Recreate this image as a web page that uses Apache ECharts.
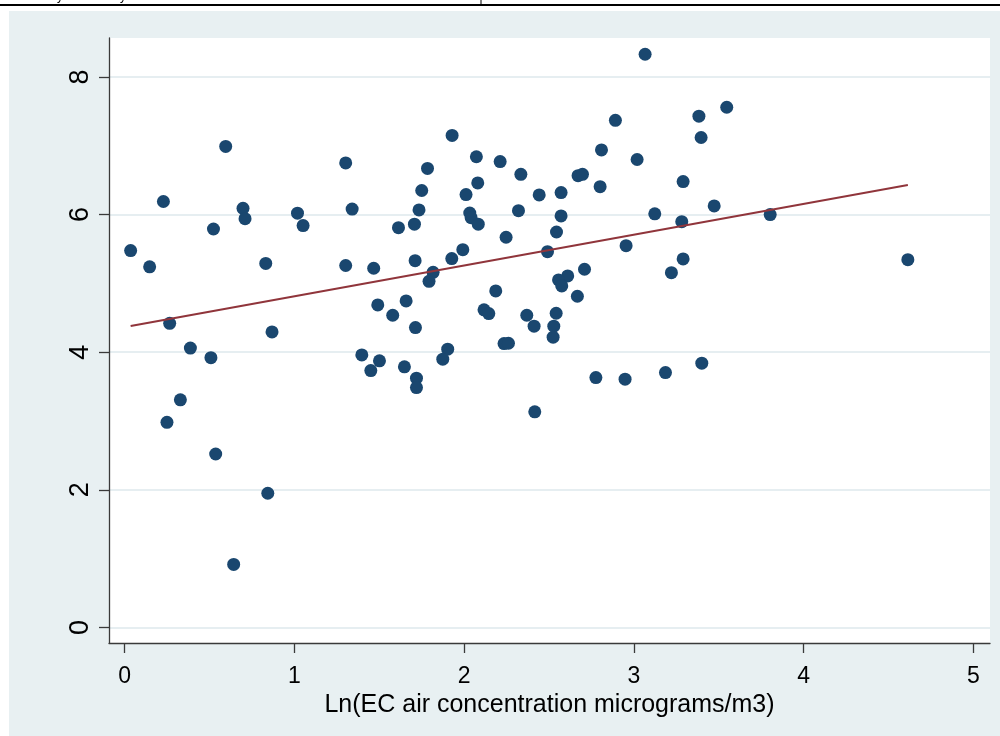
<!DOCTYPE html>
<html>
<head>
<meta charset="utf-8">
<script src="https://cdn.jsdelivr.net/npm/echarts@6/dist/echarts.min.js"></script>
<style>
  html, body { margin: 0; padding: 0; background: #ffffff; }
  #chart { width: 1000px; height: 736px; }
</style>
</head>
<body>
<div id="chart"></div>
<script>
// Ln(EC air concentration) on the x axis, outcome on the y axis
const ecLog = [
  0.035, 0.147, 0.228, 0.595, 0.523, 0.697, 0.709, 1.018, 1.051, 0.831,
  1.302, 1.340, 1.302, 0.265, 0.387, 0.508, 0.868, 0.328, 0.249, 0.536,
  0.843, 0.642, 3.066, 2.891, 2.809, 3.019, 1.929, 2.072, 2.212, 1.784,
  2.334, 2.080, 1.750, 2.011, 2.442, 2.571, 2.671, 2.697, 2.801, 1.734,
  2.033, 2.041, 2.083, 2.320, 2.571, 3.123, 3.290, 1.707, 1.613, 2.247,
  2.544, 2.491, 2.954, 3.282, 3.473, 3.803, 3.383, 3.547, 3.396, 3.290,
  3.221, 4.614, 1.467, 1.711, 1.927, 1.992, 1.817, 1.793, 2.709, 2.610,
  2.556, 2.575, 2.667, 2.186, 1.491, 1.658, 1.579, 1.713, 2.117, 2.145,
  2.369, 2.412, 2.542, 2.528, 2.524, 2.235, 2.261, 1.397, 1.501, 1.450,
  1.648, 1.903, 1.874, 1.719, 1.719, 2.416, 2.776, 2.948, 3.186, 3.400
];
const outcome = [
  5.476, 5.240, 6.190, 6.990, 5.790, 6.090, 5.940, 6.020, 5.840, 5.290,
  6.750, 6.080, 5.260, 4.420, 4.060, 3.920, 4.295, 3.307, 2.980, 2.520,
  1.950, 0.915, 8.330, 7.370, 6.940, 6.800, 7.150, 6.840, 6.770, 6.670,
  6.585, 6.460, 6.350, 6.290, 6.285, 6.320, 6.565, 6.585, 6.405, 6.067,
  6.023, 5.955, 5.860, 6.057, 5.980, 6.010, 6.480, 5.860, 5.810, 5.670,
  5.747, 5.460, 5.548, 5.897, 6.125, 6.000, 7.430, 7.560, 7.120, 5.355,
  5.156, 5.345, 5.220, 5.330, 5.360, 5.490, 5.160, 5.030, 5.205, 5.108,
  5.050, 4.963, 4.813, 4.890, 4.687, 4.745, 4.537, 4.357, 4.615, 4.561,
  4.537, 4.378, 4.566, 4.378, 4.218, 4.125, 4.130, 3.960, 3.874, 3.733,
  3.787, 4.044, 3.898, 3.622, 3.486, 3.133, 3.631, 3.608, 3.704, 3.840
];

// Fitted line endpoints (linear fit over the observed x range)
const fitX = [0.035, 4.614];
const fitY = [4.38, 6.43];

// Tick labels
const xTicks = [0, 1, 2, 3, 4, 5];
const yTicks = [0, 2, 4, 6, 8];

const xTitle = 'Ln(EC air concentration micrograms/m3)';

const points = ecLog.map((x, i) => [x, outcome[i]]);
const fitPoints = fitX.map((x, i) => [x, fitY[i]]);

const FONT = '"Liberation Sans", Arial, sans-serif';
const AXIS_COLOR = '#3a3a3a';
const GRID_COLOR = '#e6eef1';

const chart = echarts.init(document.getElementById('chart'), null, { renderer: 'canvas' });

chart.setOption({
  backgroundColor: '#e8f0f2',
  animation: false,
  graphic: [
    // page strip above the figure
    { type: 'rect', shape: { x: 0, y: 0, width: 1000, height: 11 }, style: { fill: '#ffffff' }, silent: true },
    { type: 'rect', shape: { x: 0, y: 0, width: 9, height: 736 }, style: { fill: '#ffffff' }, silent: true },
    { type: 'line', shape: { x1: 0, y1: 5, x2: 1000, y2: 5 }, style: { stroke: '#000000', lineWidth: 2 }, silent: true },
    { type: 'line', shape: { x1: 481, y1: 0, x2: 481, y2: 4 }, style: { stroke: '#000000', lineWidth: 1 }, silent: true },
    { type: 'text', x: 57, y: -3, style: { text: 'y', font: '12px ' + FONT, fill: '#000', verticalAlign: 'middle' }, silent: true },
    { type: 'text', x: 120, y: -3, style: { text: 'y', font: '12px ' + FONT, fill: '#000', verticalAlign: 'middle' }, silent: true }
  ],
  grid: {
    left: 109, right: 10, top: 38, bottom: 93,
    show: true, backgroundColor: '#ffffff', borderWidth: 0
  },
  xAxis: {
    type: 'value',
    min: -0.0925, max: 5.098,
    name: xTitle,
    nameLocation: 'middle',
    nameGap: 39,
    nameTextStyle: { fontFamily: FONT, fontSize: 25, color: '#000' },
    axisLine: { show: true, onZero: false, lineStyle: { color: AXIS_COLOR, width: 1.3 } },
    axisTick: { show: true, length: 10, customValues: xTicks, lineStyle: { color: AXIS_COLOR, width: 1.3 } },
    axisLabel: { customValues: xTicks, margin: 22, fontFamily: FONT, fontSize: 23, color: '#000' },
    splitLine: { show: false }
  },
  yAxis: {
    type: 'value',
    min: -0.2265, max: 8.566,
    axisLine: { show: true, onZero: false, lineStyle: { color: AXIS_COLOR, width: 1.3 } },
    axisTick: { show: true, length: 10, customValues: yTicks, lineStyle: { color: AXIS_COLOR, width: 1.3 } },
    axisLabel: { customValues: yTicks, rotate: 90, margin: 15, fontFamily: FONT, fontSize: 27, color: '#000' },
    splitLine: { show: true, lineStyle: { color: GRID_COLOR, width: 2 } }
  },
  series: [
    {
      type: 'scatter',
      data: points,
      symbol: 'circle',
      symbolSize: 13,
      itemStyle: { color: '#1a476f', opacity: 1 },
      z: 3
    },
    {
      type: 'line',
      data: fitPoints,
      showSymbol: false,
      symbol: 'none',
      lineStyle: { color: '#90353b', width: 2 },
      z: 4
    }
  ]
});
</script>
</body>
</html>
